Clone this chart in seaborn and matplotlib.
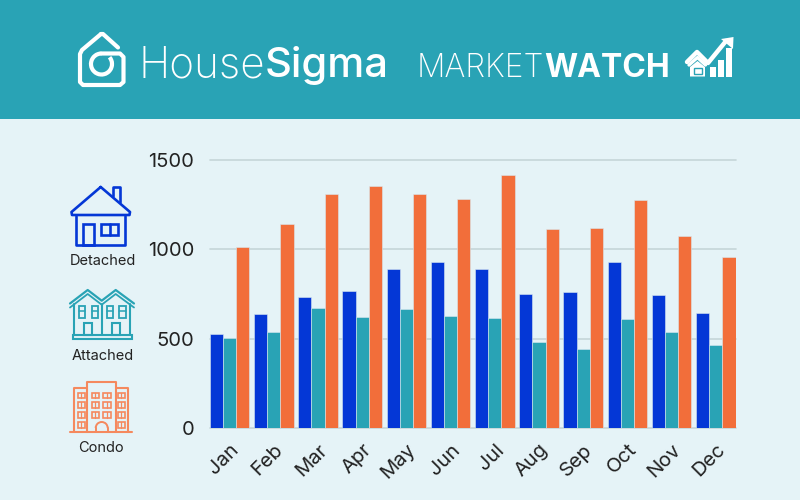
import numpy as np
import pandas as pd
import matplotlib
matplotlib.use("Agg")
import matplotlib.pyplot as plt
import matplotlib.patches as mpatches
import seaborn as sns

months = ["Jan", "Feb", "Mar", "Apr", "May", "Jun", "Jul", "Aug", "Sep", "Oct", "Nov", "Dec"]
detached = [525, 639, 732, 769, 892, 931, 890, 753, 762, 931, 745, 646]
attached = [503, 538, 671, 622, 667, 626, 615, 481, 443, 609, 540, 468]
condo = [1015, 1140, 1312, 1356, 1312, 1280, 1414, 1112, 1121, 1278, 1073, 959]
y_ticks = [0, 500, 1000, 1500]

BLUE = "#0437d6"
TEAL = "#29a3b5"
ORANGE = "#f26e3a"
BG = "#e5f3f7"
INK = "#222222"

sns.set_theme(style="white")
plt.rcParams["font.family"] = ["Inter", "DejaVu Sans"]

frame = pd.DataFrame({"month": months, "Detached": detached, "Attached": attached, "Condo": condo})
frame = frame.melt(id_vars="month", var_name="type", value_name="count")

fig = plt.figure(figsize=(8, 5), dpi=100, facecolor=BG)

# overlay in pixel coordinates for the banner and the icons
deco = fig.add_axes([0, 0, 1, 1], zorder=3)
deco.axis("off")
deco.patch.set_alpha(0)

ax = fig.add_axes([209.7 / 800, (500 - 428.3) / 500, 526 / 800, 268.3 / 500], facecolor=BG)
sns.barplot(data=frame, x="month", y="count", hue="type", order=months,
            palette=[BLUE, TEAL, ORANGE], width=0.9, gap=0, saturation=1,
            edgecolor="#d9e8f0", linewidth=0.4, legend=False, ax=ax, zorder=2)
ax.set_xlim(-0.45, 11.45)
ax.set_ylim(0, 1500)
ax.set_yticks(y_ticks)
ax.yaxis.grid(True, color="#c5d6d8", linewidth=1.2)
for gl in ax.get_ygridlines():
    gl.set_clip_on(False)
ax.set_axisbelow(True)
ax.set_xlabel(None)
ax.set_ylabel(None)
sns.despine(ax=ax, left=True, bottom=True, top=True, right=True)
ax.tick_params(axis="y", length=0, pad=11, labelsize=14.5, labelcolor=INK)
ax.tick_params(axis="x", length=0, pad=9, labelsize=14.5, labelcolor=INK)
plt.setp(ax.get_xticklabels(), rotation=45, ha="right", rotation_mode="anchor")

# banner
deco.add_patch(mpatches.Rectangle((0, 0), 800, 119, color=TEAL, lw=0))


def line(pts, color, lw=1.9):
    xs, ys = zip(*pts)
    deco.plot(xs, ys, color=color, lw=lw, solid_joinstyle="round", solid_capstyle="round")


def box(x0, y0, x1, y1, color, lw=1.9):
    deco.add_patch(mpatches.Rectangle((x0, y0), x1 - x0, y1 - y0, fill=False, edgecolor=color, lw=lw))


# HouseSigma logo
W = "white"
line([(101, 34), (82, 50), (80, 54), (80, 82), (83, 85), (120, 85), (123.5, 82), (123.5, 57),
      (120, 53.5), (101.5, 53.5)], W, 3)
line([(101, 34), (103, 34), (118, 47.5)], W, 3)
deco.add_patch(mpatches.Arc((101.5, 64), 21, 21, theta1=-40, theta2=270, color=W, lw=3))

deco.text(265, 77, "House", ha="right", va="baseline", color=W, fontsize=30.5, fontweight="light")
deco.text(265, 77, "Sigma", ha="left", va="baseline", color=W, fontsize=30, fontweight="medium")
deco.text(544, 77, "MARKET", ha="right", va="baseline", color=W, fontsize=22.8, fontweight="light")
deco.text(544, 77, "WATCH", ha="left", va="baseline", color=W, fontsize=23, fontweight="bold")

# market watch icon
line([(687, 62), (697, 52), (708, 63), (726, 41)], W, 3.2)
deco.add_patch(mpatches.Polygon([(733.5, 37), (721, 39), (733, 49)], color=W, lw=0))
for x0, x1, top in [(710, 716, 67), (718, 723.5, 60), (726, 731.5, 48)]:
    deco.add_patch(mpatches.Rectangle((x0, top), x1 - x0, 76.5 - top, color=W, lw=0))
line([(689, 65), (697.5, 57.5), (705.5, 65)], W, 2.4)
deco.add_patch(mpatches.Polygon([(690, 67), (697.5, 61), (705, 67), (705, 76.5), (690, 76.5)], color=W, lw=0))
box(693.5, 67.5, 701.5, 74, TEAL, 1)

# detached icon
line([(100.7, 187), (71.5, 212), (72, 215), (129.5, 215), (130, 212), (100.7, 187)], BLUE)
line([(113, 196), (113, 187), (120, 187), (120, 202)], BLUE)
line([(76, 216), (76, 245), (125, 245), (125, 216)], BLUE)
box(83.3, 223.5, 94.3, 245, BLUE)
box(100.7, 223.5, 118.3, 235, BLUE)
line([(109.5, 223.5), (109.5, 235)], BLUE)

# attached icon
roof = [(70, 303.5), (87.7, 290), (101.7, 300.7), (115.7, 290), (134, 303.5)]
line(roof, TEAL, 1.6)
line([(x, y + 4) for x, y in roof], TEAL, 1.3)
for x in (74, 101.7, 130):
    line([(x, 304), (x, 335)], TEAL, 1.5)
box(72.7, 335, 131.7, 339.3, TEAL, 1.5)
for x0 in (78.5, 91.7, 106.7, 119.3):
    box(x0, 306, x0 + 6.2, 317.7, TEAL, 1.3)
    line([(x0, 311), (x0 + 6.2, 311)], TEAL, 1.1)
box(84, 323.3, 92.3, 335, TEAL, 1.5)
box(111.7, 323.3, 120, 335, TEAL, 1.5)

# condo icon
ORANGE_ICON = "#f5895e"
line([(70, 432.3), (132.3, 432.3)], ORANGE_ICON, 1.5)
line([(87.3, 432.3), (87.3, 381.7), (115.7, 381.7), (115.7, 432.3)], ORANGE_ICON, 1.5)
line([(74.3, 432.3), (74.3, 388.3), (87.3, 388.3)], ORANGE_ICON, 1.5)
line([(115.7, 388.3), (128.3, 388.3), (128.3, 432.3)], ORANGE_ICON, 1.5)
rows = [392.7, 402.3, 412.3, 422.3]
for i, y0 in enumerate(rows):
    cols = (77.5, 117.7) if i == 3 else (77.5, 91.7, 103.3, 117.7)
    for x0 in cols:
        box(x0, y0, x0 + 7.5, y0 + 5.7, ORANGE_ICON, 1.2)
        line([(x0 + 3.75, y0), (x0 + 3.75, y0 + 5.7)], ORANGE_ICON, 0.9)
deco.add_patch(mpatches.Arc((101.7, 428), 12, 12, theta1=180, theta2=360, color=ORANGE_ICON, lw=1.4))
line([(95.7, 428), (95.7, 432.3)], ORANGE_ICON, 1.4)
line([(107.7, 428), (107.7, 432.3)], ORANGE_ICON, 1.4)

for x, y, name in [(103, 261, "Detached"), (102.5, 356, "Attached"), (101, 448, "Condo")]:
    deco.text(x, y, name, ha="center", va="center", fontsize=10.5, color=INK)

deco.set_xlim(0, 800)
deco.set_ylim(500, 0)
fig.savefig("out.png", dpi=100, facecolor=BG)
